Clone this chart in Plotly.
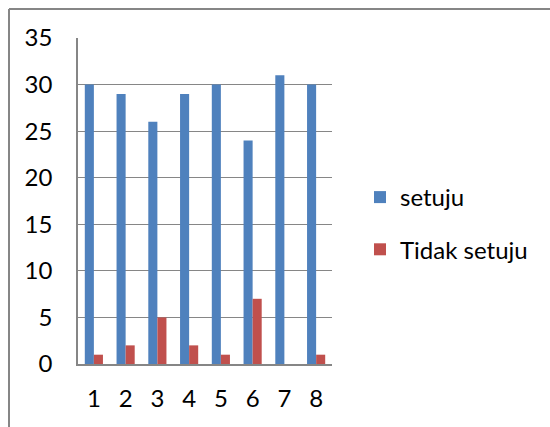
import plotly.graph_objects as go

categories = ["1", "2", "3", "4", "5", "6", "7", "8"]
setuju = [30, 29, 26, 29, 30, 24, 31, 30]
tidak_setuju = [1, 2, 5, 2, 1, 7, 0, 1]
y_ticks = [0, 5, 10, 15, 20, 25, 30, 35]

W, H = 550, 427
L, R, T, B = 78, 332, 38, 364

FONT = "Lato"
GRAY = "#868686"
FS = 24

fig = go.Figure()
fig.add_trace(go.Bar(x=categories, y=setuju, name="setuju",
                     marker=dict(color="#4F81BD", line=dict(width=0)),
                     legendgroup="a"))
fig.add_trace(go.Bar(x=categories, y=tidak_setuju, name="Tidak setuju",
                     marker=dict(color="#C0504D", line=dict(width=0)),
                     legendgroup="b"))

def px_x(x):
    return (x - L) / (R - L)

def px_y(y):
    return (H - y - (H - B)) / (B - T)

fig.update_layout(
    width=W, height=H,
    margin=dict(l=L, r=W - R, t=T, b=H - B, pad=0),
    paper_bgcolor="white", plot_bgcolor="white",
    barmode="group", bargap=1.5 / 3.5, bargroupgap=0,
    font=dict(family=FONT, size=FS, color="black"),
    showlegend=True,
    legend=dict(x=px_x(360), y=px_y(175), xanchor="left", yanchor="top",
                xref="paper", yref="paper",
                traceorder="grouped", tracegroupgap=18,
                itemwidth=30, font=dict(size=FS),
                bgcolor="rgba(0,0,0,0)", borderwidth=0),
    xaxis=dict(showgrid=False, showline=True, linecolor=GRAY, linewidth=1.5,
               ticks="", ticklabelstandoff=12, zeroline=False,
               tickfont=dict(size=FS)),
    yaxis=dict(range=[0, 35], tickvals=y_ticks, showgrid=True, gridcolor=GRAY,
               gridwidth=1, showline=True, linecolor=GRAY, linewidth=1.5,
               ticks="", ticklabelstandoff=19, zeroline=False,
               tickfont=dict(size=FS)),
    shapes=[
        dict(type="line", xref="paper", yref="paper",
             x0=px_x(9), x1=px_x(W + 5), y0=px_y(9), y1=px_y(9),
             line=dict(color=GRAY, width=2)),
        dict(type="line", xref="paper", yref="paper",
             x0=px_x(9), x1=px_x(9), y0=px_y(9), y1=px_y(H + 5),
             line=dict(color=GRAY, width=2)),
    ],
)

fig.write_html("out.html")
